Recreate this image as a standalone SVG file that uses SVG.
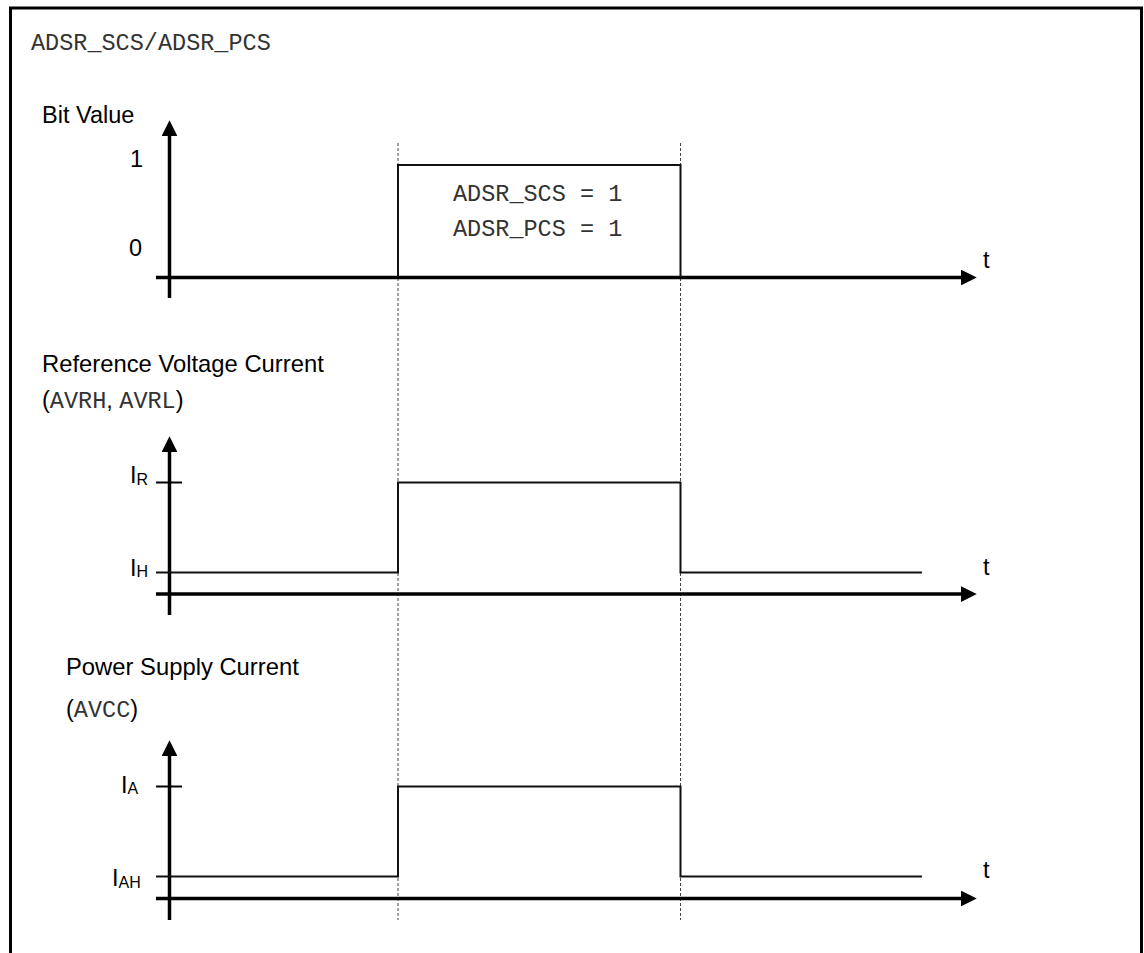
<svg xmlns="http://www.w3.org/2000/svg" width="1144" height="953" viewBox="0 0 1144 953">
<style>
.sans{font-family:"Liberation Sans",Arial,sans-serif;fill:#000}
.mono{font-family:"Liberation Mono","Courier New",monospace;fill:#333}
.axis{stroke:#000;stroke-width:3.5;fill:none}
.sig{stroke:#111;stroke-width:2;fill:none}
.tick{stroke:#000;stroke-width:2;fill:none}
.dash{stroke:#444;stroke-width:1;stroke-dasharray:3,2;fill:none}
</style>
<defs>
<marker id="ah" markerWidth="4.5" markerHeight="4.5" refX="0" refY="2.25" orient="auto" markerUnits="strokeWidth" viewBox="0 0 4.5 4.5">
<path d="M0,0 L4.5,2.25 L0,4.5 Z" fill="#000"/>
</marker>
</defs>
<rect width="1144" height="953" fill="#fff"/>
<path d="M10.5,953 V8 H1141.5 V953" fill="none" stroke="#000" stroke-width="3"/>
<text class="mono" x="31" y="50" font-size="23.5">ADSR_SCS/ADSR_PCS</text>

<g id="connectors">
<line class="dash" x1="398" y1="143" x2="398" y2="920"/>
<line class="dash" x1="680.5" y1="143" x2="680.5" y2="920"/>
</g>

<g id="panel-bit">
<text class="sans" x="42" y="123" font-size="23.5">Bit Value</text>
<line class="axis" x1="169.5" y1="298" x2="169.5" y2="136" marker-end="url(#ah)"/>
<line class="axis" x1="156" y1="277.5" x2="961" y2="277.5" marker-end="url(#ah)"/>
<text class="sans" x="130" y="167" font-size="23.5">1</text>
<text class="sans" x="129" y="256" font-size="23.5">0</text>
<text class="sans" x="983" y="268" font-size="23.5">t</text>
<path class="sig" d="M398,277 V165 H680.5 V277"/>
<text class="mono" x="453" y="201" font-size="23.5">ADSR_SCS = 1</text>
<text class="mono" x="453" y="236" font-size="23.5">ADSR_PCS = 1</text>
</g>

<g id="panel-ref">
<text class="sans" x="42" y="372" font-size="23.8">Reference Voltage Current</text>
<text x="42" y="408" font-size="23.5"><tspan class="sans">(</tspan><tspan class="mono">AVRH</tspan><tspan class="sans">, </tspan><tspan class="mono">AVRL</tspan><tspan class="sans">)</tspan></text>
<line class="axis" x1="169.5" y1="615" x2="169.5" y2="452" marker-end="url(#ah)"/>
<line class="axis" x1="156" y1="594" x2="961" y2="594" marker-end="url(#ah)"/>
<line class="tick" x1="156" y1="482.5" x2="182" y2="482.5"/>
<text class="sans" x="130" y="483" font-size="23.5">I<tspan font-size="16" dy="2">R</tspan></text>
<text class="sans" x="130" y="576" font-size="23.5">I<tspan font-size="16" dy="1">H</tspan></text>
<path class="sig" d="M156,572.5 H398 V482.5 H680.5 V572.5 H922"/>
<text class="sans" x="983" y="575" font-size="23.5">t</text>
</g>

<g id="panel-pwr">
<text class="sans" x="66" y="675" font-size="23.8">Power Supply Current</text>
<text x="66" y="717" font-size="23.5"><tspan class="sans">(</tspan><tspan class="mono">AVCC</tspan><tspan class="sans">)</tspan></text>
<line class="axis" x1="169.5" y1="920" x2="169.5" y2="756" marker-end="url(#ah)"/>
<line class="axis" x1="156" y1="898.5" x2="961" y2="898.5" marker-end="url(#ah)"/>
<line class="tick" x1="156" y1="786.5" x2="182" y2="786.5"/>
<text class="sans" x="121" y="793" font-size="23.5">I<tspan font-size="16" dy="1">A</tspan></text>
<text class="sans" x="112" y="886" font-size="23.5">I<tspan font-size="16" dy="2">AH</tspan></text>
<path class="sig" d="M156,876.5 H398 V786.5 H680.5 V876.5 H922"/>
<text class="sans" x="983" y="878" font-size="23.5">t</text>
</g>
</svg>
